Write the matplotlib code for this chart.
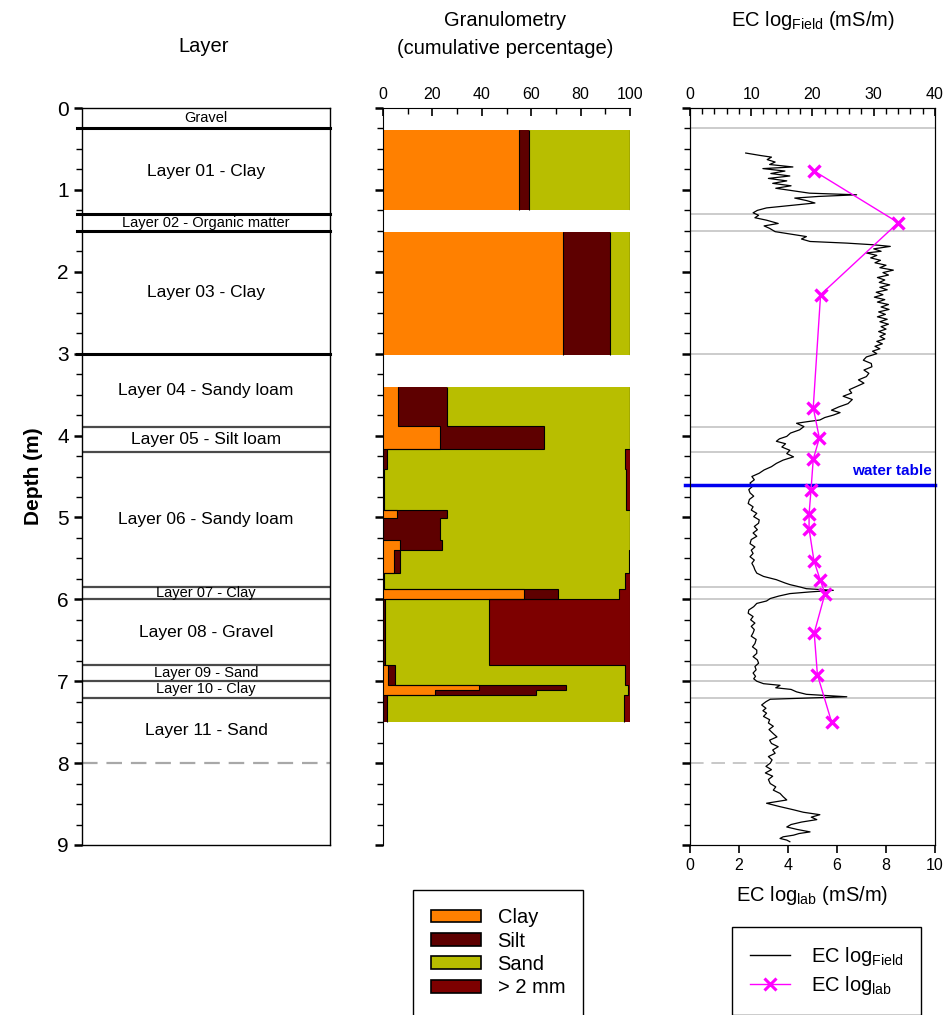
"""Soil profile: layers, granulometry and EC logs against depth."""

import matplotlib
matplotlib.use("Agg")
import matplotlib.pyplot as plt
from matplotlib.lines import Line2D
from matplotlib.patches import Patch
from matplotlib.ticker import MultipleLocator

plt.rcParams["font.family"] = ["Liberation Sans", "DejaVu Sans"]
plt.rcParams["mathtext.fontset"] = "custom"
plt.rcParams["mathtext.rm"] = "Liberation Sans"
plt.rcParams["mathtext.it"] = "Liberation Sans:italic"
plt.rcParams["mathtext.bf"] = "Liberation Sans:bold"
plt.rcParams["mathtext.default"] = "regular"

# --- layers -----------------------------------------------------------------
layer_names = ["Gravel", "Layer 01 - Clay", "Layer 02 - Organic matter",
               "Layer 03 - Clay", "Layer 04 - Sandy loam", "Layer 05 - Silt loam",
               "Layer 06 - Sandy loam", "Layer 07 - Clay", "Layer 08 - Gravel",
               "Layer 09 - Sand", "Layer 10 - Clay", "Layer 11 - Sand"]
layer_top = [0.0, 0.25, 1.3, 1.5, 3.0, 3.9, 4.2, 5.85, 6.0, 6.8, 7.0, 7.2]
layer_bottom = [0.25, 1.3, 1.5, 3.0, 3.9, 4.2, 5.85, 6.0, 6.8, 7.0, 7.2, 8.0]
water_table = 4.6

# --- granulometry (percent of each fraction per sampled interval) -----------
gran_top = [0.27, 1.51, 3.41, 3.88, 4.16, 4.41, 4.91, 5.01, 5.27, 5.40, 5.68,
            5.87, 6.00, 6.80, 7.05, 7.11, 7.17]
gran_bottom = [1.24, 3.02, 3.88, 4.16, 4.41, 4.91, 5.01, 5.27, 5.40, 5.68, 5.87,
               6.00, 6.80, 7.05, 7.11, 7.17, 7.50]
clay = [55, 73, 6, 23, 0, 0, 5.5, 0, 7, 4.5, 0, 57, 0, 2, 39, 21, 0]
silt = [4, 19, 20, 42, 1.5, 0.5, 20.5, 23, 17, 2.5, 0.5, 14, 1, 3, 35, 41, 1.5]
sand = [41, 8, 74, 35, 96.5, 98, 74, 77, 76, 92.5, 97.5, 24.5, 42, 93, 25, 37, 96]
gravel = [0, 0, 0, 0, 2, 1.5, 0, 0, 0, 0.5, 2, 4.5, 57, 2, 1, 1, 2.5]

# --- EC logs ------------------------------------------------------------------
ec_field_depth = [
    0.55, 0.58, 0.60, 0.63, 0.66, 0.69, 0.72, 0.74, 0.77, 0.80, 0.83, 0.86, 0.89,
    0.92, 0.95, 0.98, 1.01, 1.04, 1.06, 1.08, 1.10, 1.13, 1.16, 1.19, 1.22, 1.25,
    1.28, 1.31, 1.34, 1.37, 1.41, 1.44, 1.47, 1.51, 1.54, 1.57, 1.60, 1.63, 1.65,
    1.67, 1.69, 1.72, 1.75, 1.77, 1.80, 1.83, 1.86, 1.89, 1.92, 1.95, 1.98, 2.01,
    2.04, 2.07, 2.10, 2.13, 2.16, 2.19, 2.22, 2.25, 2.28, 2.31, 2.34, 2.37, 2.40,
    2.43, 2.46, 2.49, 2.52, 2.55, 2.58, 2.61, 2.64, 2.67, 2.70, 2.73, 2.76, 2.79,
    2.82, 2.85, 2.88, 2.91, 2.94, 2.97, 3.00, 3.04, 3.08, 3.12, 3.16, 3.20, 3.24,
    3.28, 3.32, 3.36, 3.40, 3.44, 3.48, 3.52, 3.56, 3.61, 3.65, 3.69, 3.72, 3.75,
    3.78, 3.81, 3.83, 3.85, 3.89, 3.93, 3.97, 4.01, 4.04, 4.07, 4.10, 4.14, 4.18,
    4.22, 4.26, 4.30, 4.34, 4.38, 4.42, 4.46, 4.50, 4.54, 4.58, 4.62, 4.66, 4.70,
    4.74, 4.78, 4.83, 4.87, 4.91, 4.95, 4.99, 5.03, 5.07, 5.11, 5.15, 5.19, 5.23,
    5.27, 5.32, 5.36, 5.40, 5.44, 5.48, 5.52, 5.56, 5.60, 5.64, 5.68, 5.72, 5.76,
    5.80, 5.82, 5.85, 5.87, 5.89, 5.91, 5.93, 5.96, 5.99, 6.02, 6.05, 6.09, 6.13,
    6.17, 6.21, 6.25, 6.29, 6.33, 6.37, 6.41, 6.45, 6.49, 6.54, 6.58, 6.62, 6.66,
    6.70, 6.74, 6.78, 6.82, 6.86, 6.90, 6.94, 6.97, 7.00, 7.03, 7.05, 7.08, 7.10,
    7.13, 7.16, 7.19, 7.21, 7.22, 7.25, 7.29, 7.33, 7.36, 7.39, 7.43, 7.47, 7.51,
    7.55, 7.59, 7.64, 7.68, 7.72, 7.76, 7.80, 7.84, 7.88, 7.92, 7.96, 8.00, 8.04,
    8.08, 8.12, 8.16, 8.20, 8.25, 8.29, 8.33, 8.37, 8.41, 8.45, 8.49, 8.53, 8.57,
    8.60, 8.63, 8.66, 8.69, 8.72, 8.75, 8.78, 8.81, 8.84, 8.86, 8.88, 8.90, 8.92,
    8.94, 8.96]
ec_field = [
    9.1, 11.5, 13.3, 12.6, 13.9, 13.0, 16.8, 11.9, 15.5, 13.2, 16.3, 12.8, 15.8,
    13.5, 16.5, 14.0, 16.8, 19.5, 27.2, 21.0, 17.1, 19.0, 20.4, 16.4, 12.5, 11.0,
    10.3, 11.2, 10.6, 12.5, 14.4, 12.1, 13.0, 13.9, 16.5, 19.0, 18.2, 19.6, 25.6,
    29.9, 32.7, 30.0, 31.2, 28.8, 30.5, 29.5, 31.1, 30.2, 32.0, 31.0, 33.2, 31.5,
    32.4, 30.6, 31.8, 30.9, 32.6, 31.0, 32.2, 30.4, 31.5, 30.1, 31.8, 30.6, 32.4,
    31.2, 32.5, 30.8, 31.9, 30.6, 32.2, 31.0, 32.4, 31.2, 32.0, 30.8, 31.9, 31.0,
    31.8, 30.5, 31.4, 30.2, 31.0, 29.8, 30.5, 28.8, 28.3, 29.6, 29.7, 28.4, 29.2,
    28.8, 27.5, 28.4, 27.2, 26.0, 26.4, 25.0, 26.5, 25.8, 24.3, 23.1, 24.5, 23.4,
    22.0, 21.2, 19.2, 17.4, 18.6, 17.9, 16.4, 15.8, 14.6, 14.1, 15.6, 15.0, 16.3,
    15.8, 16.9, 15.2, 14.1, 13.3, 12.1, 11.3, 10.1, 10.5, 9.8, 10.2, 9.6, 9.8,
    10.4, 9.7, 9.5, 10.3, 10.0, 10.9, 10.4, 11.3, 11.2, 10.5, 11.0, 10.3, 10.9,
    10.0, 9.8, 10.6, 10.0, 10.3, 9.8, 10.5, 10.1, 10.4, 10.6, 10.9, 12.0, 14.1,
    15.5, 16.3, 18.0, 19.0, 23.4, 19.5, 16.3, 14.5, 13.1, 12.5, 10.9, 10.4, 9.6,
    9.5, 10.3, 9.9, 10.6, 10.0, 10.5, 10.3, 10.0, 10.8, 10.6, 10.2, 10.9, 10.9,
    10.3, 11.0, 11.2, 10.6, 10.8, 10.3, 10.7, 10.4, 10.9, 12.0, 14.7, 14.0, 16.5,
    17.4, 19.0, 25.6, 17.0, 13.1, 12.4, 11.7, 12.4, 11.9, 12.5, 12.0, 13.0, 12.8,
    13.6, 12.9, 13.6, 14.2, 13.0, 13.3, 14.4, 13.5, 13.9, 12.8, 13.4, 13.1, 12.4,
    13.3, 12.3, 13.5, 12.8, 13.1, 14.0, 13.6, 14.7, 15.2, 15.8, 12.5, 14.6, 16.9,
    18.5, 21.2, 19.8, 20.7, 18.2, 16.5, 15.8, 17.5, 19.6, 17.8, 16.9, 15.2, 14.7,
    15.8, 16.3]

ec_lab_depth = [0.77, 1.40, 2.28, 3.66, 4.03, 4.29, 4.66, 4.96, 5.14, 5.53,
                5.76, 5.93, 6.41, 6.92, 7.50]
ec_lab = [5.07, 8.50, 5.33, 5.03, 5.28, 5.03, 4.94, 4.86, 4.86, 5.06,
          5.31, 5.51, 5.07, 5.20, 5.78]

CLAY_C, SILT_C, SAND_C, GRAVEL_C = "#ff8000", "#5e0000", "#b8be00", "#7d0000"
W, H = 945, 1015


def px_axes(x0, x1, y0, y1):
    return [x0 / W, 1 - y1 / H, (x1 - x0) / W, (y1 - y0) / H]


def depth_ticks(ax, labels):
    ax.set_ylim(9, 0)
    ax.yaxis.set_major_locator(MultipleLocator(1))
    ax.yaxis.set_minor_locator(MultipleLocator(0.25))
    ax.tick_params(axis="y", which="major", direction="out", length=6, width=1.8,
                   labelsize=15, labelleft=labels)
    ax.tick_params(axis="y", which="minor", direction="out", length=4, width=1)


fig = plt.figure(figsize=(W / 100, H / 100), dpi=100)

# --- layer column -----------------------------------------------------------
ax_l = fig.add_axes(px_axes(82, 330, 108, 845))
depth_ticks(ax_l, True)
ax_l.set_xlim(0, 1)
ax_l.set_xticks([])
for s in ax_l.spines.values():
    s.set_linewidth(1.0)
ax_l.set_ylabel("Depth (m)", fontsize=15, fontweight="bold", labelpad=10)
for name, top, bot in zip(layer_names, layer_top, layer_bottom):
    small = bot - top < 0.28
    ax_l.text(0.5, (top + bot) / 2, name, ha="center", va="center",
              fontsize=10.5 if small else 12.5)
    if bot == layer_bottom[-1]:
        ax_l.plot([0, 1], [bot, bot], color="#a8a8a8", lw=1.6, ls=(0, (7, 4)))
    elif bot <= 3.0:
        ax_l.plot([-0.02, 1.0], [bot, bot], color="black", lw=2.2, clip_on=False)
    else:
        ax_l.plot([0, 1.0], [bot, bot], color="#4a4a4a", lw=1.6)

# --- granulometry -----------------------------------------------------------
ax_g = fig.add_axes(px_axes(383, 630, 108, 845))
depth_ticks(ax_g, False)
ax_g.set_xlim(0, 100)
ax_g.xaxis.tick_top()
ax_g.xaxis.set_major_locator(MultipleLocator(20))
ax_g.xaxis.set_minor_locator(MultipleLocator(10))
ax_g.tick_params(axis="x", which="major", direction="in", length=6, width=1.2,
                 labelsize=11.5, pad=4)
ax_g.tick_params(axis="x", which="minor", direction="in", length=4, width=1)
ax_g.spines["right"].set_visible(False)
ax_g.spines["bottom"].set_visible(False)

heights = [b - t for t, b in zip(gran_top, gran_bottom)]
left = [0.0] * len(clay)
cums = []
for vals, col in [(clay, CLAY_C), (silt, SILT_C), (sand, SAND_C), (gravel, GRAVEL_C)]:
    ax_g.barh(gran_top, vals, height=heights, left=left, align="edge",
              color=col, linewidth=0)
    left = [l + v for l, v in zip(left, vals)]
    cums.append(left)

# outline steps for each contiguous run of samples
start = 0
for i in range(1, len(gran_top) + 1):
    if i == len(gran_top) or abs(gran_top[i] - gran_bottom[i - 1]) > 1e-6:
        edges = gran_top[start:i] + [gran_bottom[i - 1]]
        for cum in cums:
            ax_g.stairs(cum[start:i], edges, orientation="horizontal",
                        baseline=None, color="black", lw=0.8)
        start = i

# --- EC logs ----------------------------------------------------------------
ax_e = fig.add_axes(px_axes(690, 935, 108, 845))
ax_lab = ax_e.twiny()
depth_ticks(ax_e, False)
ax_e.set_xlim(0, 40)
ax_e.xaxis.set_ticks_position("top")
ax_e.xaxis.set_label_position("top")
ax_e.xaxis.set_major_locator(MultipleLocator(10))
ax_e.xaxis.set_minor_locator(MultipleLocator(2))
ax_e.tick_params(axis="x", which="major", direction="in", length=6, width=1.2,
                 labelsize=11.5, pad=4, labeltop=True, labelbottom=False)
ax_e.tick_params(axis="x", which="minor", direction="in", length=4, width=1)

for top, bot in zip(layer_top, layer_bottom):
    if bot == layer_bottom[-1]:
        ax_e.axhline(bot, color="#c8c8c8", lw=1.4, ls=(0, (7, 4)))
    else:
        ax_e.axhline(bot, color="#c8c8c8", lw=1.3)
ax_e.plot([-0.02, 1.0], [water_table, water_table], color="#0000f0", lw=2.5,
          transform=ax_e.get_yaxis_transform(), clip_on=False, zorder=4)
ax_e.text(0.985, water_table - 0.08, "water table", color="#0000f0",
          fontsize=11, fontweight="bold", ha="right", va="bottom",
          transform=ax_e.get_yaxis_transform())
ax_e.plot(ec_field, ec_field_depth, color="black", lw=0.9, zorder=3)

ax_lab.set_xlim(0, 10)
ax_lab.set_ylim(9, 0)
ax_lab.xaxis.set_ticks_position("bottom")
ax_lab.xaxis.set_label_position("bottom")
ax_lab.xaxis.set_major_locator(MultipleLocator(2))
ax_lab.tick_params(axis="x", direction="out", length=6, width=1.2,
                   labelsize=11.5, pad=3, labelbottom=True, labeltop=False)
ax_lab.plot(ec_lab, ec_lab_depth, color="#ff00ff", lw=1.0, marker="x",
            ms=9, mew=2.4, zorder=5)
ax_lab.set_xlabel("EC log$_{lab}$ (mS/m)", fontsize=14.5, labelpad=8)

# --- titles -----------------------------------------------------------------
fig.text(204 / W, 1 - 47 / H, "Layer", ha="center", va="center", fontsize=14.5)
fig.text(505 / W, 1 - 20 / H, "Granulometry", ha="center", va="center",
         fontsize=14.5)
fig.text(505 / W, 1 - 48 / H, "(cumulative percentage)", ha="center",
         va="center", fontsize=14.5)
fig.text(813 / W, 1 - 20 / H, "EC log$_{Field}$ (mS/m)", ha="center",
         va="center", fontsize=14.5)

# --- legends ----------------------------------------------------------------
gran_handles = [Patch(facecolor=c, edgecolor="black", lw=1.2)
                for c in (CLAY_C, SILT_C, SAND_C, GRAVEL_C)]
leg1 = fig.legend(gran_handles, ["Clay", "Silt", "Sand", "> 2 mm"],
                  loc="upper left", bbox_to_anchor=(413 / W, 1 - 890 / H),
                  fontsize=14.5, frameon=True, fancybox=False, framealpha=1,
                  edgecolor="black", handlelength=2.5, handleheight=0.6,
                  labelspacing=0.22, borderpad=0.9, handletextpad=0.8,
                  borderaxespad=0)
leg1.get_frame().set_linewidth(1.0)

ec_handles = [Line2D([], [], color="black", lw=1.0),
              Line2D([], [], color="#ff00ff", lw=1.0, marker="x", ms=8, mew=2.2)]
leg2 = fig.legend(ec_handles, ["EC log$_{Field}$", "EC log$_{lab}$"],
                  loc="upper left", bbox_to_anchor=(732 / W, 1 - 927 / H),
                  fontsize=14.5, frameon=True, fancybox=False, framealpha=1,
                  edgecolor="black", handlelength=2.0, labelspacing=0.3,
                  borderpad=0.9, handletextpad=1.0, borderaxespad=0)
leg2.get_frame().set_linewidth(1.0)

fig.savefig("out.png", dpi=100)
